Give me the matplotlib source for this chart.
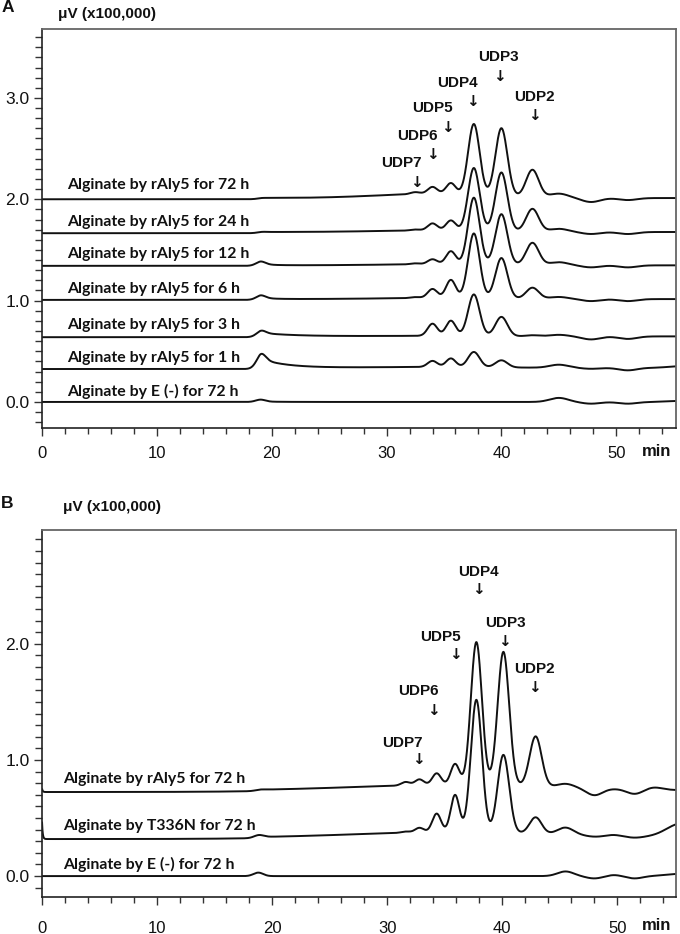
import numpy as np
import matplotlib
matplotlib.use("Agg")
import matplotlib.pyplot as plt
from matplotlib.ticker import MultipleLocator, FixedLocator

W, H, DPI = 680, 934, 100

# ---------------- Panel A data ----------------
labels_A = ["Alginate by rAly5 for 72 h", "Alginate by rAly5 for 24 h",
            "Alginate by rAly5 for 12 h", "Alginate by rAly5 for 6 h",
            "Alginate by rAly5 for 3 h", "Alginate by rAly5 for 1 h",
            "Alginate by E (-) for 72 h"]
base_A = [2.00, 1.665, 1.343, 1.007, 0.639, 0.325, 0.0]
label_y_A = [2.14, 1.78, 1.46, 1.115, 0.76, 0.434, 0.10]
hump_A = [0.04, 0.015, 0.01, 0.01, 0.005, 0.008, 0.0]
void_g_A = [0.003, 0.004, 0.03, 0.03, 0.035, 0.08, 0.02]
void_tail_A = [0.0, 0.0, 0.015, 0.015, 0.035, 0.09, 0.005]
void_tau_A = [1.0, 1.0, 1.0, 1.0, 3.0, 2.2, 1.5]
void_step_A = [0.012, 0.012, 0.005, 0.008, 0.008, 0.012, 0.0]
peak_t_A = [32.5, 34.0, 35.6, 37.6, 40.0, 42.7, 45.0, 47.8, 51.0, 55.5]
peak_w_A = [0.42, 0.42, 0.42, 0.50, 0.52, 0.55, 0.8, 0.8, 0.8, 1.0]
h_A_72 = [0.02, 0.07, 0.11, 0.70, 0.67, 0.27, 0.04, -0.04, -0.02, 0.0]
h_A_24 = [0.01, 0.07, 0.10, 0.62, 0.58, 0.225, 0.03, -0.02, -0.02, 0.0]
h_A_12 = [0.01, 0.05, 0.13, 0.66, 0.50, 0.22, 0.03, -0.02, -0.02, 0.0]
h_A_6 = [0.01, 0.09, 0.18, 0.64, 0.40, 0.11, 0.02, -0.02, -0.02, 0.0]
h_A_3 = [0.0, 0.12, 0.15, 0.41, 0.19, 0.01, 0.015, -0.03, -0.025, 0.0]
h_A_1 = [0.0, 0.06, 0.085, 0.15, 0.07, 0.0, 0.03, -0.01, -0.025, 0.015]
h_A_E = [0.0, 0.0, 0.0, 0.0, 0.0, 0.0, 0.04, -0.017, -0.017, 0.01]
heights_A = [h_A_72, h_A_24, h_A_12, h_A_6, h_A_3, h_A_1, h_A_E]

# ---------------- Panel B data ----------------
labels_B = ["Alginate by rAly5 for 72 h", "Alginate by T336N for 72 h",
            "Alginate by E (-) for 72 h"]
base_B = [0.724, 0.319, 0.0]
label_y_B = [0.84, 0.43, 0.10]
hump_B = [0.05, 0.05, 0.0]
spike_B = [0.03, 0.15, 0.0]
void_g_B = [0.004, 0.02, 0.03]
void_tail_B = [0.0, 0.0, 0.0]
void_tau_B = [1.0, 1.0, 1.0]
void_step_B = [0.012, 0.01, 0.0]
peak_t_B = [31.6, 32.8, 34.3, 35.9, 37.75, 40.1, 42.9, 45.5, 48.0, 49.7, 51.5, 53.2, 55.6]
peak_w_B = [0.38, 0.38, 0.38, 0.38, 0.48, 0.50, 0.52, 0.7, 0.7, 0.6, 0.7, 0.7, 1.3]
h_B_r = [0.03, 0.05, 0.10, 0.18, 1.23, 1.15, 0.43, 0.03, -0.06, 0.0, -0.04, 0.02, 0.0]
h_B_T = [0.01, 0.04, 0.16, 0.32, 1.14, 0.67, 0.14, 0.06, -0.01, 0.01, -0.01, 0.0, 0.12]
h_B_E = [0.0, 0.0, 0.0, 0.0, 0.0, 0.0, 0.0, 0.04, -0.02, 0.01, -0.02, 0.0, 0.02]
heights_B = [h_B_r, h_B_T, h_B_E]

udp_names = ["UDP7", "UDP6", "UDP5", "UDP4", "UDP3", "UDP2"]
udp_lab_x_A = [31.3, 32.7, 34.0, 36.2, 39.7, 42.9]
udp_lab_y_A = [2.36, 2.62, 2.90, 3.15, 3.40, 3.01]
udp_arr_x_A = [32.6, 34.0, 35.3, 37.5, 39.8, 42.9]
udp_arr_y_A = [2.17, 2.44, 2.71, 2.96, 3.21, 2.83]
udp_lab_x_B = [31.3, 32.7, 34.6, 37.9, 40.3, 42.8]
udp_lab_y_B = [1.15, 1.59, 2.06, 2.62, 2.18, 1.78]
udp_arr_x_B = [32.7, 34.0, 35.9, 37.9, 40.2, 42.8]
udp_arr_y_B = [1.00, 1.43, 1.905, 2.47, 2.02, 1.62]

x_major = [0, 10, 20, 30, 40, 50]


def gauss(t, c, s):
    return np.exp(-(t - c) ** 2 / (2 * s * s))


def trace(t, base, hump, hc, hs, vg, vtail, vtau, vstep, tv, pt, pw, ph, spike=0.0):
    y = np.full_like(t, base) + hump * gauss(t, hc, hs)
    s = 1.0 / (1.0 + np.exp(-(t - tv + 0.1) / 0.2))
    y += vg * gauss(t, tv, 0.42) + s * (vstep + vtail * np.exp(-np.clip(t - tv, 0, None) / vtau))
    for c, w, h in zip(pt, pw, ph):
        y += h * gauss(t, c, w)
    y += spike * np.exp(-t / 0.06)
    return y


fig = plt.figure(figsize=(W / DPI, H / DPI), dpi=DPI)


def style_axes(ax, xmax, ylo, yhi, ymajor, yminor_top, pad_x):
    ax.set_xlim(0, xmax)
    ax.set_ylim(ylo, yhi)
    ax.xaxis.set_major_locator(FixedLocator(x_major))
    ax.xaxis.set_minor_locator(MultipleLocator(2))
    ax.yaxis.set_major_locator(FixedLocator(ymajor))
    ax.yaxis.set_minor_locator(FixedLocator(np.round(np.arange(-0.2, yminor_top + 0.001, 0.1), 2)))
    ax.set_yticklabels([f"{v:.1f}" for v in ymajor])
    ax.set_xticklabels([str(v) for v in x_major])
    ax.tick_params(axis="both", which="both", direction="out", color="#333333", width=1.0)
    ax.tick_params(axis="y", which="major", length=6, pad=3, labelsize=12.5)
    ax.tick_params(axis="y", which="minor", length=5)
    ax.tick_params(axis="x", which="major", length=6, pad=pad_x, labelsize=12)
    ax.tick_params(axis="x", which="minor", length=4)
    for lab in ax.get_xticklabels() + ax.get_yticklabels():
        lab.set_family("Liberation Sans")
        lab.set_color("#111111")
    for side in ["top", "right"]:
        ax.spines[side].set_color("#666666")
        ax.spines[side].set_linewidth(1.3)
    for side in ["left", "bottom"]:
        ax.spines[side].set_color("#222222")
        ax.spines[side].set_linewidth(1.2)


label_font = dict(family="Lato", weight="bold", size=11.4, color="#111111")
udp_font = dict(family=["Liberation Sans", "DejaVu Sans"], weight="bold", size=11, color="#111111")
arrow_font = dict(family=["DejaVu Sans"], weight="bold", size=11, color="#111111")

# ---------- Panel A ----------
axA = fig.add_axes([42 / W, 1 - 428 / H, 634 / W, 399 / H])
xmaxA = 55.2
tA = np.linspace(0, xmaxA, 3000)
for i in range(len(labels_A)):
    y = trace(tA, base_A[i], hump_A[i], 34.0, 5.0, void_g_A[i], void_tail_A[i], void_tau_A[i],
              void_step_A[i], 19.0, peak_t_A, peak_w_A, heights_A[i])
    axA.plot(tA, y, color="#111111", lw=1.4, solid_capstyle="butt")
    axA.text(2.2, label_y_A[i], labels_A[i], ha="left", va="center", **label_font)
for n, lx, ly, ax_, ay in zip(udp_names, udp_lab_x_A, udp_lab_y_A, udp_arr_x_A, udp_arr_y_A):
    axA.text(lx, ly, n, ha="center", va="center", **udp_font)
    axA.text(ax_, ay, "\u2193", ha="center", va="center", **arrow_font)
style_axes(axA, xmaxA, -0.257, 3.68, [0.0, 1.0, 2.0, 3.0], 3.6, 7)

# ---------- Panel B ----------
axB = fig.add_axes([42 / W, 1 - 897 / H, 634 / W, 367 / H])
xmaxB = 55.1
tB = np.linspace(0, xmaxB, 3000)
for i in range(len(labels_B)):
    y = trace(tB, base_B[i], hump_B[i], 36.0, 9.0, void_g_B[i], void_tail_B[i], void_tau_B[i],
              void_step_B[i], 18.8, peak_t_B, peak_w_B, heights_B[i], spike_B[i])
    axB.plot(tB, y, color="#111111", lw=1.4, solid_capstyle="butt")
    axB.text(1.8, label_y_B[i], labels_B[i], ha="left", va="center", **label_font)
for n, lx, ly, ax_, ay in zip(udp_names, udp_lab_x_B, udp_lab_y_B, udp_arr_x_B, udp_arr_y_B):
    axB.text(lx, ly, n, ha="center", va="center", **udp_font)
    axB.text(ax_, ay, "\u2193", ha="center", va="center", **arrow_font)
style_axes(axB, xmaxB, -0.18, 2.98, [0.0, 1.0, 2.0], 2.9, 11)

# ---------- figure texts ----------
axis_font = dict(family="Liberation Sans", weight="bold", size=11, color="#111111")
fig.text(8 / W, 1 - 8 / H, "A", ha="center", va="center", family="Liberation Sans",
         weight="bold", size=12.5, color="#111111")
fig.text(7 / W, 1 - 504 / H, "B", ha="center", va="center", family="Liberation Sans",
         weight="bold", size=12.5, color="#111111")
fig.text(107 / W, 1 - 14 / H, "\u03bcV (x100,000)", ha="center", va="center", **axis_font)
fig.text(112 / W, 1 - 507 / H, "\u03bcV (x100,000)", ha="center", va="center", **axis_font)
fig.text(657 / W, 1 - 452 / H, "min", ha="center", va="center", family="Liberation Sans",
         weight="bold", size=12, color="#111111")
fig.text(657 / W, 1 - 926 / H, "min", ha="center", va="center", family="Liberation Sans",
         weight="bold", size=12, color="#111111")

fig.savefig("out.png", dpi=DPI, facecolor="white")
